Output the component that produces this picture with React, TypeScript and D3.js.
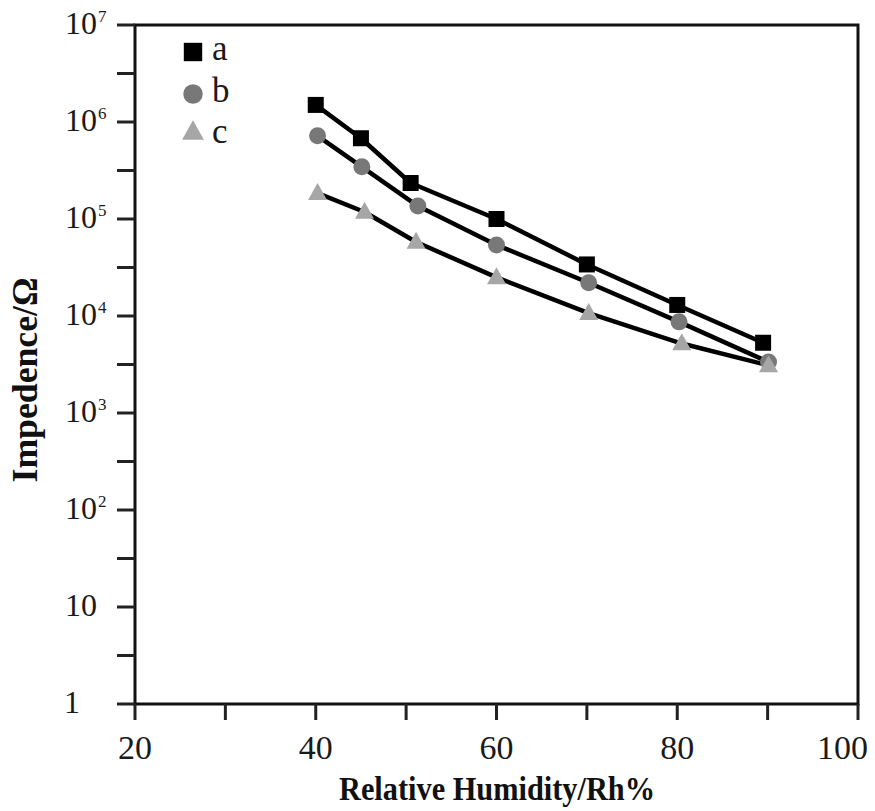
import React from "react";
import * as d3 from "d3";

const humidityA = [40, 45, 50.5, 60, 70, 80, 89.5];
const impedanceA = [1.5e6, 6.8e5, 2.35e5, 1.0e5, 3.4e4, 1.3e4, 5.3e3];
const humidityB = [40.2, 45.1, 51.3, 60, 70.2, 80.2, 90.1];
const impedanceB = [7.2e5, 3.45e5, 1.36e5, 5.4e4, 2.2e4, 8.7e3, 3.35e3];
const humidityC = [40.2, 45.4, 51.1, 60, 70.2, 80.5, 90.1];
const impedanceC = [1.85e5, 1.18e5, 5.8e4, 2.5e4, 1.07e4, 5.2e3, 3.1e3];
const legendLabels = ["a", "b", "c"];
const xTickValues = [20, 30, 40, 50, 60, 70, 80, 90, 100];
const xLabelValues = [20, 40, 60, 80, 100];
const yExponents = [0, 1, 2, 3, 4, 5, 6, 7];

const W = 875;
const H = 811;
const left = 135;
const right = 858;
const top = 25;
const bottom = 704;
const FONT = "'Liberation Serif', 'Times New Roman', serif";

export default function App() {
  const x = d3.scaleLinear().domain([20, 100]).range([left, right]);
  const y = d3.scaleLog().domain([1, 1e7]).range([bottom, top]);
  const line = d3
    .line<[number, number]>()
    .x((d) => x(d[0]))
    .y((d) => y(d[1]));

  const series = [
    { xs: humidityA, ys: impedanceA, shape: "square", color: "#000000" },
    { xs: humidityB, ys: impedanceB, shape: "circle", color: "#787878" },
    { xs: humidityC, ys: impedanceC, shape: "triangle", color: "#a6a6a6" },
  ];

  const marker = (shape: string, cx: number, cy: number, color: string, key: string, k = 1) => {
    if (shape === "square") {
      const s = 16 * k;
      return <rect key={key} x={cx - s / 2} y={cy - s / 2} width={s} height={s} fill={color} />;
    }
    if (shape === "circle") return <circle key={key} cx={cx} cy={cy} r={8.5 * k} fill={color} />;
    const s = 19 * k;
    const hgt = 17 * k;
    const pts = `${cx},${cy - hgt * 0.6} ${cx - s / 2},${cy + hgt * 0.4} ${cx + s / 2},${cy + hgt * 0.4}`;
    return <polygon key={key} points={pts} fill={color} />;
  };

  const minorY = yExponents.slice(0, -1).map((e) => Math.pow(10, e + 0.5));

  return (
    <svg width={W} height={H} style={{ display: "block", position: "absolute", left: 0, top: 0 }} fontFamily={FONT}>
      <rect x={0} y={0} width={W} height={H} fill="#ffffff" />
      {series.map((s, i) => (
        <path
          key={"l" + i}
          d={line(s.xs.map((v, j) => [v, s.ys[j]] as [number, number])) || ""}
          fill="none"
          stroke="#000"
          strokeWidth={4.5}
          strokeLinejoin="round"
        />
      ))}
      {series.map((s, i) => s.xs.map((v, j) => marker(s.shape, x(v), y(s.ys[j]), s.color, `m${i}-${j}`)))}

      <rect x={left} y={top} width={right - left} height={bottom - top} fill="none" stroke="#111" strokeWidth={3} />

      {yExponents.map((e) => (
        <line key={"yt" + e} x1={117} x2={left} y1={y(Math.pow(10, e))} y2={y(Math.pow(10, e))} stroke="#222" strokeWidth={3} />
      ))}
      {minorY.map((v, i) => (
        <line key={"ym" + i} x1={117} x2={left} y1={y(v)} y2={y(v)} stroke="#222" strokeWidth={3} />
      ))}
      {yExponents.map((e) => {
        const yy = y(Math.pow(10, e)) + 9;
        if (e === 0)
          return (
            <text key={"yl" + e} x={80} y={yy} fontSize={32} textAnchor="end" fill="#1a1a1a">
              1
            </text>
          );
        return (
          <g key={"yl" + e}>
            <text x={97} y={yy} fontSize={32} textAnchor="end" fill="#1a1a1a">
              10
            </text>
            {e > 1 && (
              <text x={98} y={yy - 12} fontSize={17} fill="#1a1a1a">
                {e}
              </text>
            )}
          </g>
        );
      })}

      {xTickValues.map((v) => (
        <line key={"xt" + v} x1={x(v)} x2={x(v)} y1={bottom} y2={bottom + 16} stroke="#222" strokeWidth={3} />
      ))}
      {xLabelValues.map((v) => (
        <text
          key={"xl" + v}
          x={v === 100 ? 868 : x(v)}
          y={759}
          fontSize={34}
          textAnchor={v === 100 ? "end" : "middle"}
          fill="#1a1a1a"
        >
          {v}
        </text>
      ))}

      <text
        x={497}
        y={800}
        fontSize={34}
        fontWeight="bold"
        textAnchor="middle"
        fill="#111"
        textLength={316}
        lengthAdjust="spacingAndGlyphs"
      >
        Relative Humidity/Rh%
      </text>
      <text
        transform={`translate(37, 380) rotate(-90)`}
        fontSize={35}
        fontWeight="bold"
        textAnchor="middle"
        fill="#111"
        textLength={205}
        lengthAdjust="spacingAndGlyphs"
      >
        Impedence/Ω
      </text>

      {legendLabels.map((lab, i) => {
        const cy = [52, 94, 132][i];
        const ty = [60, 102, 143][i];
        return (
          <g key={"lg" + i}>
            {marker(series[i].shape, 193, cy, series[i].color, "lgm" + i, 1.15)}
            <text x={212} y={ty} fontSize={35} fill="#1a1a1a">
              {lab}
            </text>
          </g>
        );
      })}
    </svg>
  );
}
